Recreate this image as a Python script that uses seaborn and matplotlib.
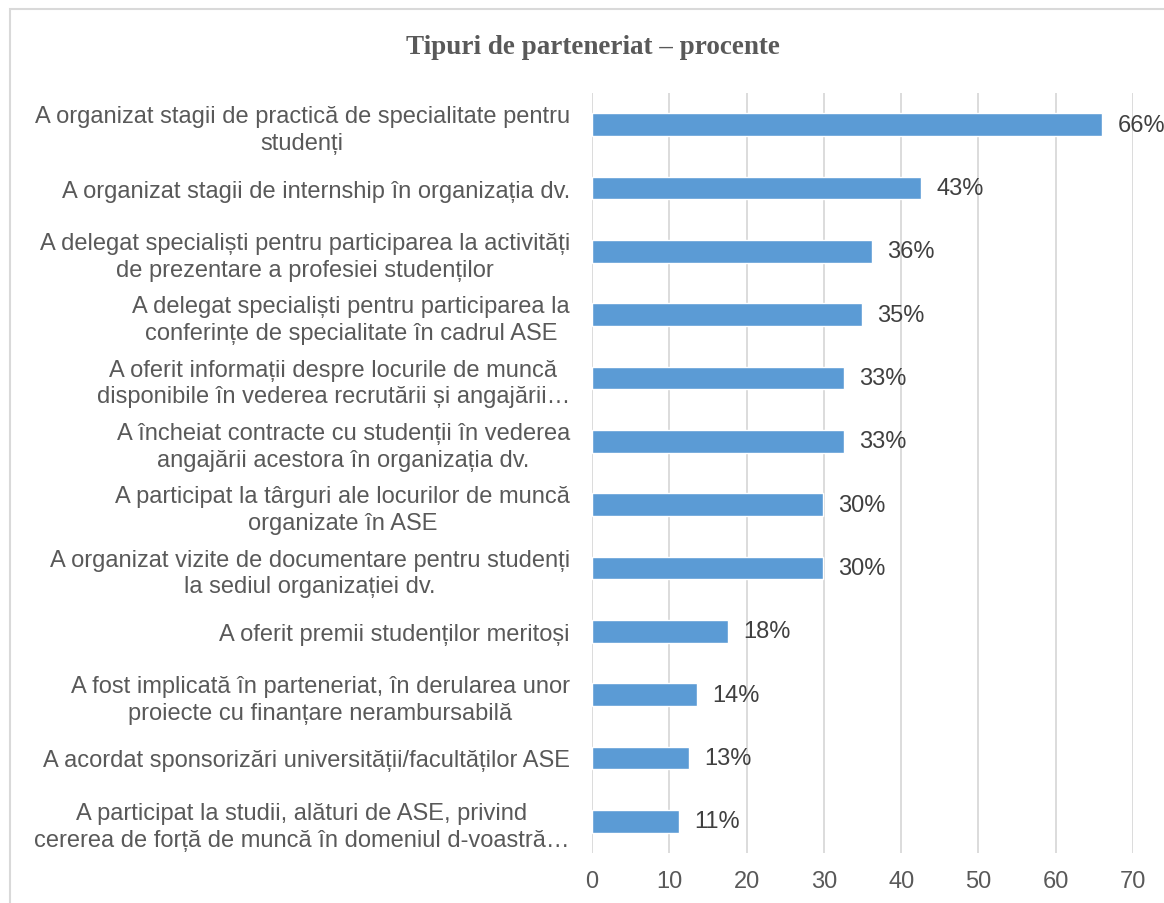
import matplotlib
matplotlib.use('Agg')
import matplotlib.pyplot as plt
import seaborn as sns
import pandas as pd
from matplotlib.patches import Rectangle

# -----------------------------
# DATA
# -----------------------------
categories = [
    "A organizat stagii de practică de specialitate pentru\nstudenți",
    "A organizat stagii de internship în organizația dv.",
    "A delegat specialiști pentru participarea la activități\nde prezentare a profesiei studenților",
    "A delegat specialiști pentru participarea la\nconferințe de specialitate în cadrul ASE",
    "A oferit informații despre locurile de muncă\ndisponibile în vederea recrutării și angajării…",
    "A încheiat contracte cu studenții în vederea\nangajării acestora în organizația dv.",
    "A participat la târguri ale locurilor de muncă\norganizate în ASE",
    "A organizat vizite de documentare pentru studenți\nla sediul organizației dv.",
    "A oferit premii studenților meritoși",
    "A fost implicată în parteneriat, în derularea unor\nproiecte cu finanțare nerambursabilă",
    "A acordat sponsorizări universității/facultăților ASE",
    "A participat la studii, alături de ASE, privind\ncererea de forță de muncă în domeniul d-voastră…",
]
percent = [66.0, 42.6, 36.2, 34.9, 32.6, 32.6, 29.9, 29.9, 17.6, 13.6, 12.6, 11.2]
x_ticks = [0, 10, 20, 30, 40, 50, 60, 70]

df = pd.DataFrame({"tip": categories, "procent": percent})

# -----------------------------
# STYLE
# -----------------------------
sns.set_theme(style="white")
plt.rcParams['font.family'] = ['Liberation Sans', 'DejaVu Sans']

BAR = "#5B9BD5"
GRID = "#D9D9D9"
TXT = "#595959"

fig = plt.figure(figsize=(11.64, 9.04), dpi=100)
ax = fig.add_axes([592 / 1164, 1 - 854 / 904, 541 / 1164, 760 / 904])

sns.barplot(data=df, y="tip", x="procent", orient="h", color=BAR,
            width=0.36, saturation=1, ax=ax, zorder=3)

ax.set_xlim(0, 70)
ax.set_xticks(x_ticks)
ax.set_xlabel("")
ax.set_ylabel("")
ax.grid(axis="x", color=GRID, linewidth=1.3, zorder=0)
ax.grid(axis="y", visible=False)
for s in ax.spines.values():
    s.set_visible(False)

ax.tick_params(axis="x", length=0, pad=12, labelsize=17, labelcolor=TXT)
ax.tick_params(axis="y", length=0, pad=16, labelsize=17, labelcolor=TXT)
for lbl in ax.get_yticklabels():
    lbl.set_multialignment("center")
    lbl.set_linespacing(1.28)

# value labels
ax.bar_label(ax.containers[0], labels=[f"{v:.0f}%" for v in percent],
             padding=11, fontsize=17, color="#404040", clip_on=False)

# title
fig.text(593 / 1164, 1 - 47 / 904, "Tipuri de parteneriat – procente",
         ha="center", va="center", fontsize=19.5, fontweight="bold",
         color=TXT, family=['Liberation Serif', 'DejaVu Serif'])

# chart border
fig.patches.append(Rectangle((10 / 1164, -0.02), 1.1, 1 - 10 / 904 + 0.02,
                             transform=fig.transFigure, fill=False,
                             edgecolor=GRID, linewidth=1.5))

fig.savefig("out.png", dpi=100, facecolor="white")
plt.close()
